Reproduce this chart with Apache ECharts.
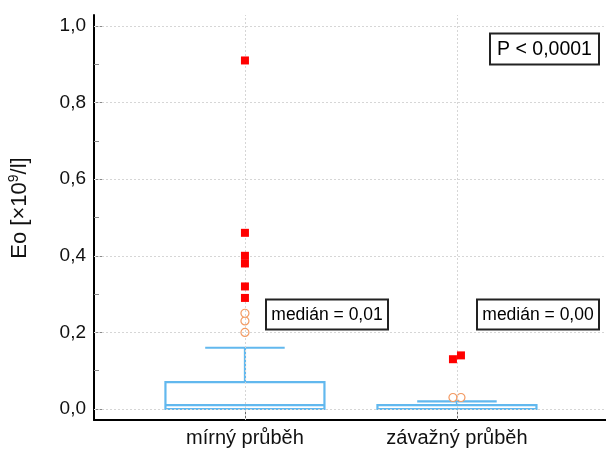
<!DOCTYPE html>
<html><head><meta charset="utf-8">
<script src="https://cdn.jsdelivr.net/npm/echarts@6/dist/echarts.min.js"></script>
<style>html,body{margin:0;padding:0;background:#fff}#c{width:606px;height:451px}</style>
</head><body><div id="c"></div>
<script>
const categories = ['mírný průběh', 'závažný průběh'];
// [min, Q1, median, Q3, max]
const boxStats = [[0, 0, 0.01, 0.07, 0.16], [0, 0, 0, 0.01, 0.02]];
const nearOutliers = [[0.20, 0.23, 0.25], [0.03, 0.03]];
const farOutliers = [[0.29, 0.32, 0.38, 0.40, 0.46, 0.91], [0.13, 0.14]];
const medianLabels = ['medián = 0,01', 'medián = 0,00'];
const pLabel = 'P < 0,0001';
const yTicks = [0, 0.2, 0.4, 0.6, 0.8, 1.0];
const yMinorTicks = [0.1, 0.3, 0.5, 0.7, 0.9];

// style-only jitter (px) for overlapping outliers
const nearJitter = [[0, 0, 0], [-4, 4]];
const farJitter = [[0, 0, 0, 0, 0, 0], [-4, 4]];

const FONT = 'Liberation Sans, Arial, sans-serif';
const BOX = '#62b8ee';

const boxData = boxStats.map((s, i) => [i].concat(s));
const nearData = [];
nearOutliers.forEach((arr, i) => arr.forEach((v, j) => nearData.push({value: [i, v], symbolOffset: [nearJitter[i][j], 0]})));
const farData = [];
farOutliers.forEach((arr, i) => arr.forEach((v, j) => farData.push({value: [i, v], symbolOffset: [farJitter[i][j], 0]})));

const chart = echarts.init(document.getElementById('c'), null, {renderer: 'canvas'});
const gridLine = {type: [2, 2], color: '#d6d6d6', width: 1};
chart.setOption({
  animation: false,
  backgroundColor: '#fff',
  textStyle: {fontFamily: FONT},
  grid: {left: 94, right: 0, top: 15, bottom: 31, containLabel: false},
  xAxis: {
    type: 'value', min: -0.712, max: 1.703,
    axisLine: {show: true, onZero: false, lineStyle: {color: '#000', width: 2}},
    axisTick: {show: true, inside: true, length: 11, customValues: [0, 1], lineStyle: {color: '#666'}},
    axisLabel: {customValues: [0, 1], formatter: v => categories[Math.round(v)], fontSize: 20, color: '#111', margin: 8, fontFamily: FONT},
    splitLine: {show: false}
  },
  yAxis: [{
    type: 'value', min: -0.0287, max: 1.0287,
    axisLine: {show: true, onZero: false, lineStyle: {color: '#000', width: 2}},
    axisTick: {show: true, inside: true, length: 10, customValues: yTicks, lineStyle: {color: '#888'}},
    axisLabel: {customValues: yTicks, formatter: v => v.toFixed(1).replace('.', ','), fontSize: 19, color: '#111', margin: 8, fontFamily: FONT},
    splitLine: {show: false}
  }, {
    type: 'value', min: -0.0287, max: 1.0287, position: 'left', offset: 0,
    axisLine: {show: false, onZero: false},
    axisTick: {show: true, inside: true, length: 5, customValues: yMinorTicks, lineStyle: {color: '#888'}},
    axisLabel: {show: false},
    splitLine: {show: false}
  }],
  series: [
    {
      type: 'scatter', data: [], z: 1, silent: true,
      markLine: {
        silent: true, symbol: ['none', 'none'], label: {show: false}, lineStyle: gridLine,
        data: yTicks.map(v => ({yAxis: v})).concat(categories.map((c, i) => ({xAxis: i})))
      }
    },
    {
      type: 'custom', z: 3, data: boxData,
      renderItem: function (params, api) {
        const x = api.value(0);
        const mn = api.coord([x, api.value(1)]);
        const q1 = api.coord([x, api.value(2)]);
        const md = api.coord([x, api.value(3)]);
        const q3 = api.coord([x, api.value(4)]);
        const mx = api.coord([x, api.value(5)]);
        const hw = api.size([0.75, 0])[0] / 2;
        const cx = q1[0];
        const st = {stroke: BOX, lineWidth: 2.2, fill: null};
        return {type: 'group', children: [
          {type: 'line', shape: {x1: cx, y1: q3[1], x2: cx, y2: mx[1]}, style: st},
          {type: 'line', shape: {x1: cx - hw / 2, y1: mx[1], x2: cx + hw / 2, y2: mx[1]}, style: st},
          {type: 'line', shape: {x1: cx, y1: q1[1], x2: cx, y2: mn[1]}, style: st},
          {type: 'line', shape: {x1: cx - hw / 2, y1: mn[1], x2: cx + hw / 2, y2: mn[1]}, style: st},
          {type: 'rect', shape: {x: cx - hw, y: q3[1], width: 2 * hw, height: q1[1] - q3[1]}, style: {stroke: BOX, lineWidth: 2.2, fill: '#fff'}},
          {type: 'line', shape: {x1: cx - hw, y1: md[1], x2: cx + hw, y2: md[1]}, style: st}
        ]};
      }
    },
    {
      type: 'scatter', z: 4, data: nearData, symbol: 'circle', symbolSize: 8,
      itemStyle: {color: '#fff', borderColor: '#f39a62', borderWidth: 1.2, opacity: 1}
    },
    {
      type: 'scatter', z: 5, data: farData, symbol: 'rect', symbolSize: 8,
      itemStyle: {color: '#ff0000', opacity: 1}
    }
  ],
  graphic: [
    {type: 'rect', z: 10, shape: {x: 266, y: 299.5, width: 122, height: 30}, style: {fill: '#fff', stroke: '#222', lineWidth: 2}},
    {type: 'text', z: 11, x: 327, y: 315, style: {text: medianLabels[0], font: '17.5px ' + FONT, fill: '#000', align: 'center', verticalAlign: 'middle'}},
    {type: 'rect', z: 10, shape: {x: 477, y: 299.5, width: 122, height: 30}, style: {fill: '#fff', stroke: '#222', lineWidth: 2}},
    {type: 'text', z: 11, x: 538, y: 315, style: {text: medianLabels[1], font: '17.5px ' + FONT, fill: '#000', align: 'center', verticalAlign: 'middle'}},
    {type: 'rect', z: 10, shape: {x: 490, y: 33.5, width: 109, height: 31}, style: {fill: '#fff', stroke: '#222', lineWidth: 2}},
    {type: 'text', z: 11, x: 544.5, y: 49.5, style: {text: pLabel, font: '19.5px ' + FONT, fill: '#000', align: 'center', verticalAlign: 'middle'}},
    {type: 'text', z: 11, x: 20, y: 208, rotation: Math.PI / 2,
      style: {text: '{a|Eo [×10}{s|9}{a|/l]}', align: 'center', verticalAlign: 'middle', fill: '#111',
        rich: {a: {fontSize: 22, lineHeight: 26, fontFamily: FONT, fill: '#111'},
               s: {fontSize: 14, lineHeight: 14, verticalAlign: 'top', fontFamily: FONT, fill: '#111'}}}}
  ]
});
</script></body></html>
